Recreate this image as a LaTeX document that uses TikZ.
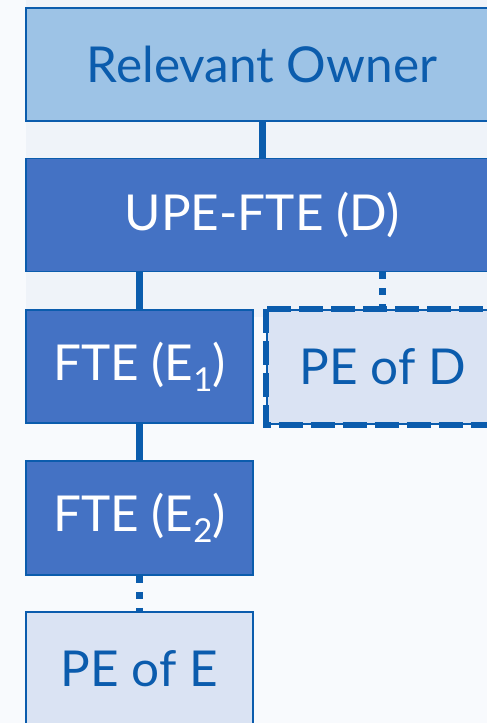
\documentclass[tikz,border=0pt]{standalone}
\usepackage{fontspec}
\setmainfont{Lato}
\definecolor{pagebg}{HTML}{F8FAFD}
\definecolor{panelbg}{HTML}{EFF3F9}
\definecolor{ownerfill}{HTML}{9DC3E6}
\definecolor{entfill}{HTML}{4472C4}
\definecolor{pefill}{HTML}{DAE3F3}
\definecolor{edge}{HTML}{0B5CAD}
\tikzset{
  x=1pt, y=-1pt,
  box/.style={draw=edge, line width=1.6pt, minimum height=113pt, inner sep=0pt,
    font=\fontsize{49.5}{52}\selectfont, anchor=center},
  ownerbox/.style={box, fill=ownerfill, text=edge, minimum width=472pt},
  entbox/.style={box, fill=entfill, text=white},
  pebox/.style={box, fill=pefill, text=edge},
  solidlink/.style={draw=edge, line width=7pt},
  dotlink/.style={draw=edge, line width=7pt, dash pattern=on 7pt off 9pt},
  dashedge/.style={draw=edge, line width=6pt, dash pattern=on 24pt off 8pt},
}
\newcommand{\subidx}[1]{\raisebox{-11pt}{\fontsize{33}{33}\selectfont #1}}
\begin{document}
\begin{tikzpicture}
  \useasboundingbox (0,0) rectangle (487,723);
  \clip (0,0) rectangle (487,723);
  \fill[pagebg] (0,0) rectangle (487,723);
  \fill[panelbg] (26,0) rectangle (487,317);

  \node[ownerbox] (owner) at (262,64.5) {Relevant Owner};
  \node[entbox, minimum width=472pt] (upe) at (262,215) {UPE-FTE (D)};
  \node[entbox, minimum width=227pt] (e1) at (139.5,366.5) {FTE (E\subidx{1})};
  \node[pebox, minimum width=231pt, minimum height=114pt] (ped) at (382.5,367) {PE of D};
  \node[entbox, minimum width=227pt, minimum height=114pt] (e2) at (139.5,518) {FTE (E\subidx{2})};
  \node[pebox, minimum width=227pt] (pee) at (139.5,668.5) {PE of E};

  \draw[dashedge] (ped.north west) rectangle (ped.south east);

  \draw[solidlink] (owner.south) -- (upe.north);
  \draw[solidlink] (upe.south -| e1.north) -- (e1.north);
  \draw[dotlink] (upe.south -| ped.north) -- (ped.north);
  \draw[solidlink] (e1.south) -- (e2.north);
  \draw[dotlink] (e2.south) -- (pee.north);
\end{tikzpicture}
\end{document}
